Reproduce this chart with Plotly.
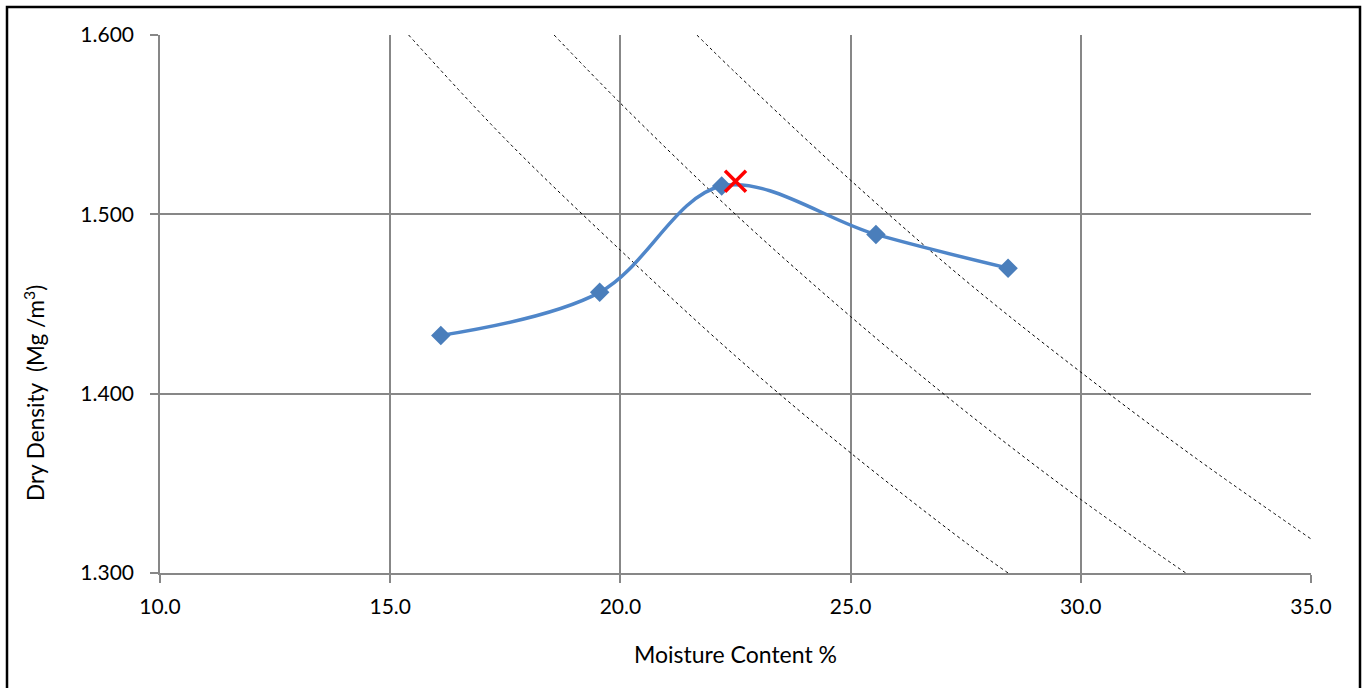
import plotly.graph_objects as go

# Compaction test data
moisture = [16.1, 19.55, 22.2, 25.55, 28.42]
dry_density = [1.4325, 1.4565, 1.5158, 1.4888, 1.4700]

# Optimum point (red cross)
opt_moisture = [22.5]
opt_density = [1.5185]

# Air-voids lines: 10%, 5%, 0%
av10_w = [15.4, 17.5, 20.0, 22.5, 25.0, 27.5, 28.42]
av10_d = [1.600, 1.542, 1.480, 1.421, 1.367, 1.317, 1.300]
av5_w = [18.56, 20.0, 22.5, 25.0, 27.5, 30.0, 32.28]
av5_d = [1.600, 1.562, 1.500, 1.443, 1.390, 1.341, 1.300]
av0_w = [21.66, 22.5, 25.0, 27.5, 30.0, 32.5, 35.0]
av0_d = [1.600, 1.579, 1.519, 1.463, 1.412, 1.364, 1.319]

x_ticks = [10.0, 15.0, 20.0, 25.0, 30.0, 35.0]
y_ticks = [1.300, 1.400, 1.500, 1.600]

FONT = "Lato"
GRID = "#878787"

fig = go.Figure()
for w, d in [(av10_w, av10_d), (av5_w, av5_d), (av0_w, av0_d)]:
    fig.add_trace(go.Scatter(x=w, y=d, mode="lines", line=dict(color="black", width=1, dash="dot", shape="spline"),
                             hoverinfo="skip", showlegend=False))

fig.add_trace(go.Scatter(x=moisture, y=dry_density, mode="lines+markers",
                         line=dict(color="#4F86C9", width=3.5, shape="spline", smoothing=1.0),
                         marker=dict(symbol="diamond", size=15, color="#4A7EBB"),
                         showlegend=False))
fig.add_trace(go.Scatter(x=opt_moisture, y=opt_density, mode="markers",
                         marker=dict(symbol="x-thin", size=21, line=dict(color="#FF0000", width=3.5)),
                         showlegend=False))

fig.update_layout(
    width=1364, height=688,
    margin=dict(l=160, r=53, t=35, b=115),
    paper_bgcolor="white", plot_bgcolor="white",
    font=dict(family=FONT, size=21, color="black"),
    xaxis=dict(range=[10, 35], tickvals=x_ticks, ticktext=[f"{v:.1f}" for v in x_ticks],
               showgrid=True, gridcolor=GRID, gridwidth=1.5,
               showline=True, linecolor=GRID, linewidth=1.5,
               ticks="outside", ticklen=8, tickcolor=GRID, tickwidth=1.5,
               ticklabelstandoff=6,
               zeroline=False,
               title=dict(text="Moisture Content %", standoff=30, font=dict(size=23))),
    yaxis=dict(range=[1.3, 1.6], tickvals=y_ticks, ticktext=[f"{v:.3f}" for v in y_ticks],
               showgrid=True, gridcolor=GRID, gridwidth=1.5,
               showline=True, linecolor=GRID, linewidth=1.5,
               ticks="outside", ticklen=8, tickcolor=GRID, tickwidth=1.5,
               ticklabelstandoff=12,
               zeroline=False),
    annotations=[dict(text="Dry Density  (Mg /m<sup>3</sup>)", textangle=-90, showarrow=False,
                      xref="paper", yref="paper",
                      x=(34 - 160) / 1151, y=(573 - 393) / 538,
                      xanchor="center", yanchor="middle", font=dict(size=22.5))],
    shapes=[dict(type="rect", xref="paper", yref="paper",
                 x0=(7 - 160) / 1151, x1=(1360 - 160) / 1151,
                 y0=(573 - 700) / 538, y1=1 + (35 - 7) / 538,
                 line=dict(color="black", width=2.5), layer="above")],
)

fig.write_html("out.html", config={"displayModeBar": False},
               post_script="document.body.style.margin='0';document.body.style.overflow='hidden';")
